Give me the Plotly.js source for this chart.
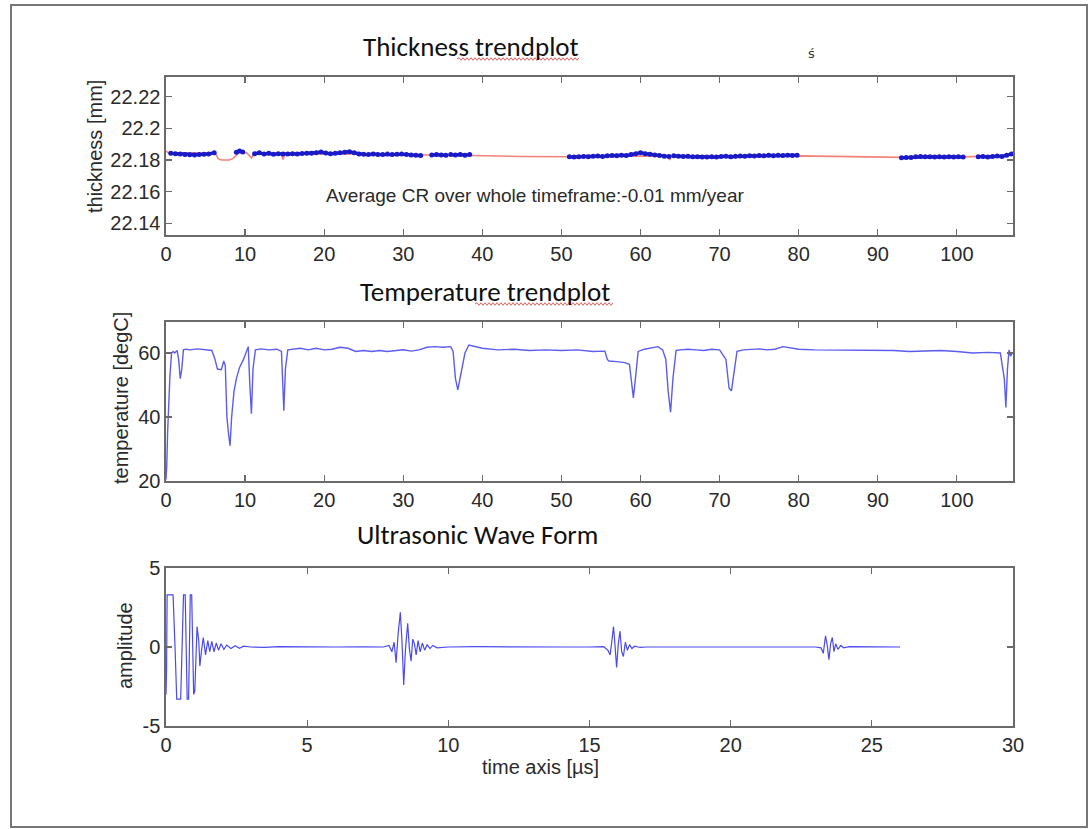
<!DOCTYPE html>
<html>
<head>
<meta charset="utf-8">
<script src="https://cdn.plot.ly/plotly-3.0.1.min.js"></script>
<style>html,body{margin:0;padding:0;background:#fff;}#chart{width:1089px;height:829px;}</style>
</head>
<body>
<div id="chart"></div>
<script>
// ---------------- DATA ----------------
// Thickness trendplot: measured points (blue), null = gap
const thickX = [0.6,1.2,1.8,2.4,3.0,3.6,4.2,4.8,5.4,6.1,null,
  8.9,9.3,9.7,null,
  11.2,11.8,12.4,13,13.6,14.2,14.8,15.4,16,16.6,17.2,17.8,18.4,19,19.6,20.2,20.8,21.4,22,22.6,23.2,23.8,24.4,25,25.6,26.2,26.8,27.4,28,28.6,29.2,29.8,30.4,31,31.6,32.2,null,
  33.6,34.2,34.8,35.4,null,36,36.6,37.2,37.8,38.4,null,
  51,51.6,52.2,52.8,53.4,54,54.6,55.2,55.8,56.4,57,57.6,58.2,58.8,59.4,60,60.6,61.2,61.8,62.4,63,63.6,null,
  64.2,64.8,65.4,66,66.6,67.2,67.8,68.4,69,69.6,70.2,70.8,71.4,72,72.6,73.2,73.8,74.4,75,75.6,76.2,76.8,77.4,78,78.6,79.2,79.8,null,
  93,93.6,94.2,94.8,95.4,96,96.6,97.2,97.8,98.4,99,99.6,100.2,100.8,null,
  102.7,103.3,103.9,104.5,105.1,105.7,106.3,106.9];
const thickY = [22.1842,22.1840,22.1838,22.1835,22.1833,22.1832,22.1834,22.1836,22.1838,22.1846,null,
  22.1848,22.1856,22.1850,null,
  22.1840,22.1845,22.1838,22.1842,22.1836,22.1840,22.1838,22.1837,22.1840,22.1838,22.1841,22.1842,22.1843,22.1846,22.1850,22.1844,22.1840,22.1842,22.1845,22.1848,22.1852,22.1845,22.1838,22.1836,22.1834,22.1838,22.1835,22.1834,22.1837,22.1834,22.1836,22.1838,22.1835,22.1832,22.1830,22.1828,null,
  22.1832,22.1834,22.1832,22.1830,null,22.1834,22.1831,22.1835,22.1830,22.1834,null,
  22.1820,22.1818,22.1820,22.1822,22.1820,22.1823,22.1825,22.1822,22.1826,22.1828,22.1826,22.1830,22.1828,22.1834,22.1840,22.1846,22.1840,22.1836,22.1832,22.1828,22.1824,22.1822,null,
  22.1826,22.1824,22.1822,22.1823,22.1820,22.1821,22.1819,22.1818,22.1820,22.1818,22.1822,22.1824,22.1820,22.1823,22.1825,22.1824,22.1826,22.1825,22.1828,22.1826,22.1829,22.1827,22.1830,22.1828,22.1830,22.1828,22.1829,null,
  22.1814,22.1816,22.1815,22.1820,22.1822,22.1820,22.1821,22.1819,22.1820,22.1818,22.1821,22.1819,22.1820,22.1818,null,
  22.1820,22.1822,22.1818,22.1822,22.1825,22.1822,22.1830,22.1838];
// Thickness trendplot: smoothed / filled line (red)
const fitX = [0,0.4,6.2,6.6,7.0,7.5,8.0,8.5,8.9,9.3,9.8,10.2,10.5,10.8,11.2,14.6,14.8,15.0,20,30,38.5,45,51,63.5,63.7,63.9,70,80,85,90,93,100,101.5,103,107];
const fitY = [22.1856,22.1842,22.1845,22.1808,22.1800,22.1798,22.1800,22.1810,22.1830,22.1850,22.1848,22.1845,22.1830,22.1812,22.1840,22.1838,22.1802,22.1836,22.1840,22.1835,22.1828,22.1822,22.1820,22.1826,22.1800,22.1825,22.1822,22.1826,22.1822,22.1818,22.1816,22.1818,22.1820,22.1820,22.1830];

// Temperature trendplot [x, degC]
const tempPts = [[0,20.5],[0.1,25],[0.2,35],[0.35,48],[0.5,53],[0.7,60],[0.9,60.5],[1.1,60],[1.4,60.8],[1.6,58],[1.8,52],[2.0,55],[2.2,61],[2.5,61.2],[3,61],[4,61.3],[5,61],[5.8,60.8],[6.2,58],[6.5,55],[7.0,54.8],[7.3,57.5],[7.5,56],[7.7,40],[7.9,35],[8.1,31],[8.3,40],[8.6,48],[8.9,52],[9.3,55.5],[9.8,58],[10.2,61],[10.4,62],[10.6,50],[10.8,41],[11.0,55],[11.3,61],[12,61.3],[13,61],[14,61.2],[14.6,60.5],[14.9,42],[15.1,55],[15.4,61],[16,61.2],[17,61.5],[18,61],[19,61.5],[20,61],[21,61.2],[22,61.8],[23,61.5],[24,60.5],[25,60.8],[26,60.5],[27,60.8],[28,60.5],[29,60.7],[30,61],[31,60.6],[32,61],[33,61.8],[34,62],[35,61.8],[36,62],[36.3,60.5],[36.6,52],[36.9,48.5],[37.3,54],[37.8,60],[38.3,62.5],[39,62],[40,61.5],[42,61],[44,61.2],[46,60.8],[48,61],[50,60.8],[52,61],[54,60.5],[55.5,60.6],[55.8,58],[56,57.5],[57,57.3],[58,57],[58.6,56.5],[58.9,50],[59.1,46],[59.4,53],[59.7,60.5],[60.5,61.2],[61.5,61.8],[62.2,62],[62.8,61],[63.2,58],[63.5,48],[63.8,41.5],[64.1,52],[64.5,60.8],[65,61],[66,61.2],[67,61],[68,60.8],[69,61.2],[70,61],[70.8,58],[71.2,49],[71.5,48.2],[71.8,54],[72.2,60.5],[73,61],[74,61.2],[75,61.3],[76,61],[77,61.2],[78,62],[79,61.5],[80,61.2],[82,61],[84,61],[86,61],[88,61],[90,60.8],[92,60.8],[94,60.5],[96,60.6],[98,60.8],[100,60.5],[102,60],[104,60.2],[105.5,60],[106,52],[106.2,43],[106.4,55],[106.6,61],[106.8,59],[107,60]];

// Ultrasonic Wave Form [time us, amplitude]
const wavePts = [[0,-3.0],[0.02,-1.5],[0.04,3.3],[0.25,3.3],[0.32,0],[0.38,-3.3],[0.52,-3.3],[0.58,0],[0.62,3.3],[0.68,3.3],[0.72,0],[0.75,-3.3],[0.80,-3.3],[0.83,0],[0.86,3.3],[0.91,3.3],[0.95,0],[0.98,-3.0],[1.02,-2.8],[1.06,0],[1.1,1.3],[1.16,0.4],[1.2,-1.2],[1.26,-0.2],[1.32,0.6],[1.4,-0.5],[1.48,0.4],[1.55,-0.3],[1.62,0.35],[1.7,-0.3],[1.78,0.25],[1.86,-0.2],[1.95,0.2],[2.05,-0.15],[2.15,0.12],[2.3,-0.1],[2.45,0.08],[2.6,-0.08],[2.75,0.05],[3,0],[3.5,-0.03],[4,0.02],[5,0],[6,0],[7,0.01],[7.7,0],[7.9,0.1],[8.0,-0.3],[8.08,0.3],[8.15,-1.0],[8.22,0.8],[8.3,2.2],[8.36,0.3],[8.42,-2.4],[8.48,-0.2],[8.56,1.5],[8.62,-0.1],[8.68,-0.9],[8.74,0.5],[8.8,0.2],[8.86,-0.5],[8.93,0.4],[9.0,-0.3],[9.08,0.25],[9.16,-0.2],[9.25,0.15],[9.35,-0.1],[9.45,0.1],[9.6,-0.05],[10,0],[11,0.02],[12,0],[13,0.01],[14,0],[15,0],[15.5,0.02],[15.65,-0.2],[15.73,-0.5],[15.8,0.5],[15.85,1.3],[15.9,0.2],[15.96,-1.3],[16.02,0.2],[16.08,1.0],[16.14,-0.3],[16.2,-0.6],[16.27,0.3],[16.34,-0.2],[16.42,0.15],[16.5,-0.1],[16.6,0.05],[16.8,-0.03],[17,0],[18,0],[19,0.01],[20,0],[21,0],[22,0.01],[23,0],[23.2,-0.05],[23.28,-0.4],[23.36,0.7],[23.42,0.1],[23.48,-0.8],[23.54,0.2],[23.6,0.6],[23.66,-0.3],[23.72,0.2],[23.8,-0.15],[23.9,0.1],[24,-0.05],[24.2,0.02],[25,0],[25.5,0.01],[26,0]];

// tick labels
const thickTicks = [22.14,22.16,22.18,22.2,22.22];
const thickTickText = ['22.14','22.16','22.18','22.2','22.22'];
const tempTicks = [20,40,60];
const waveTicks = [-5,0,5];
const waveTickText = ['-5','0','5'];

// texts
const titles = ['Thickness trendplot','Temperature trendplot','Ultrasonic Wave Form'];
const crText = 'Average CR over whole timeframe:-0.01 mm/year';

// ---------------- LAYOUT ----------------
const W = 1089, H = 829;
const px = x => x / W;
const py = y => 1 - y / H;
const fontTick = {family:'Liberation Sans, Arial, sans-serif', size:20, color:'#2a2a2a'};
const fontTitle = {family:'Carlito, Open Sans, sans-serif', size:27, color:'#111'};
const frame = '#6a6a6a';

function xax(domain, range, dtick, anchor){
  return {domain, range, dtick, tick0:0, anchor, showline:true, mirror:'allticks', linecolor:frame, linewidth:1.6,
    ticks:'inside', ticklen:6, tickcolor:frame, tickwidth:1.2, showgrid:false, zeroline:false, tickfont:fontTick, fixedrange:true};
}
function yax(domain, range, tickvals, ticktext, anchor){
  const a = {domain, range, tickvals, anchor, showline:true, mirror:'allticks', linecolor:frame, linewidth:1.6,
    ticks:'inside', ticklen:6, tickcolor:frame, tickwidth:1.2, showgrid:false, zeroline:false, tickfont:fontTick, fixedrange:true};
  if (ticktext) a.ticktext = ticktext;
  return a;
}

const xd = [px(166), px(1013)];
const traces = [
  {x: fitX, y: fitY, type:'scatter', mode:'lines', line:{color:'#f3837a', width:1.6}, xaxis:'x', yaxis:'y', hoverinfo:'skip'},
  {x: thickX, y: thickY, type:'scatter', mode:'lines+markers', line:{color:'#1a1ac8', width:3.2}, marker:{color:'#1a1ac8', size:5}, connectgaps:false, xaxis:'x', yaxis:'y'},
  {x: tempPts.map(p=>p[0]), y: tempPts.map(p=>p[1]), type:'scatter', mode:'lines', line:{color:'#5c5cef', width:1.4}, xaxis:'x2', yaxis:'y2'},
  {x: wavePts.map(p=>p[0]), y: wavePts.map(p=>p[1]), type:'scatter', mode:'lines', line:{color:'#4a4aee', width:1.2}, xaxis:'x3', yaxis:'y3'}
];

// wavy spell-check underline (decoration)
function wavy(x0, x1, y){
  let d = 'M' + px(x0) + ',' + py(y);
  let up = true;
  for (let x = x0 + 2; x <= x1; x += 2){
    d += ' L' + px(x) + ',' + py(y + (up ? -1.3 : 1.3));
    up = !up;
  }
  return {type:'path', xref:'paper', yref:'paper', path:d, line:{color:'#e03a3a', width:0.8}};
}

const layout = {
  width: W, height: H,
  margin:{l:0, r:0, t:0, b:0},
  paper_bgcolor:'#fff', plot_bgcolor:'#fff',
  showlegend:false,
  xaxis: xax(xd, [0,107.1], 10, 'y'),
  yaxis: yax([py(235), py(77)], [22.1325, 22.2325], thickTicks, thickTickText, 'x'),
  xaxis2: xax(xd, [0,107.1], 10, 'y2'),
  yaxis2: yax([py(481), py(322)], [20, 69.7], tempTicks, null, 'x2'),
  xaxis3: xax(xd, [0,30], 5, 'y3'),
  yaxis3: yax([py(726), py(568)], [-5, 5], waveTicks, waveTickText, 'x3'),
  annotations: [
    {text: titles[0], xref:'paper', yref:'paper', x:px(471), y:py(46), showarrow:false, font:fontTitle, xanchor:'center', yanchor:'middle'},
    {text: titles[1], xref:'paper', yref:'paper', x:px(485), y:py(291), showarrow:false, font:fontTitle, xanchor:'center', yanchor:'middle'},
    {text: titles[2], xref:'paper', yref:'paper', x:px(477), y:py(534), showarrow:false, font:fontTitle, xanchor:'center', yanchor:'middle'},
    {text: crText, xref:'x', yref:'y', x:20, y:22.1573, showarrow:false, font:{family:fontTick.family, size:19, color:'#2a2a2a'}, xanchor:'left', yanchor:'middle'},
    {text: 'thickness [mm]', xref:'paper', yref:'paper', x:px(95), y:py(147), textangle:-90, showarrow:false, font:fontTick, xanchor:'center', yanchor:'middle'},
    {text: 'temperature [degC]', xref:'paper', yref:'paper', x:px(121), y:py(398), textangle:-90, showarrow:false, font:fontTick, xanchor:'center', yanchor:'middle'},
    {text: 'amplitude', xref:'paper', yref:'paper', x:px(125), y:py(646), textangle:-90, showarrow:false, font:fontTick, xanchor:'center', yanchor:'middle'},
    {text: 'time axis [µs]', xref:'paper', yref:'paper', x:px(540), y:py(767), showarrow:false, font:fontTick, xanchor:'center', yanchor:'middle'},
    {text: 'ś', xref:'paper', yref:'paper', x:px(811), y:py(54), showarrow:false, font:{family:'DejaVu Sans', size:13, color:'#333'}, xanchor:'center', yanchor:'middle'}
  ],
  shapes: [
    {type:'rect', xref:'paper', yref:'paper', x0:px(11), x1:px(1087), y0:py(827), y1:py(5), line:{color:'#777', width:2}, fillcolor:'rgba(0,0,0,0)'},
    wavy(457, 580, 59),
    wavy(475, 614, 304)
  ]
};

Plotly.newPlot('chart', traces, layout, {displayModeBar:false, staticPlot:true});
</script>
</body>
</html>
